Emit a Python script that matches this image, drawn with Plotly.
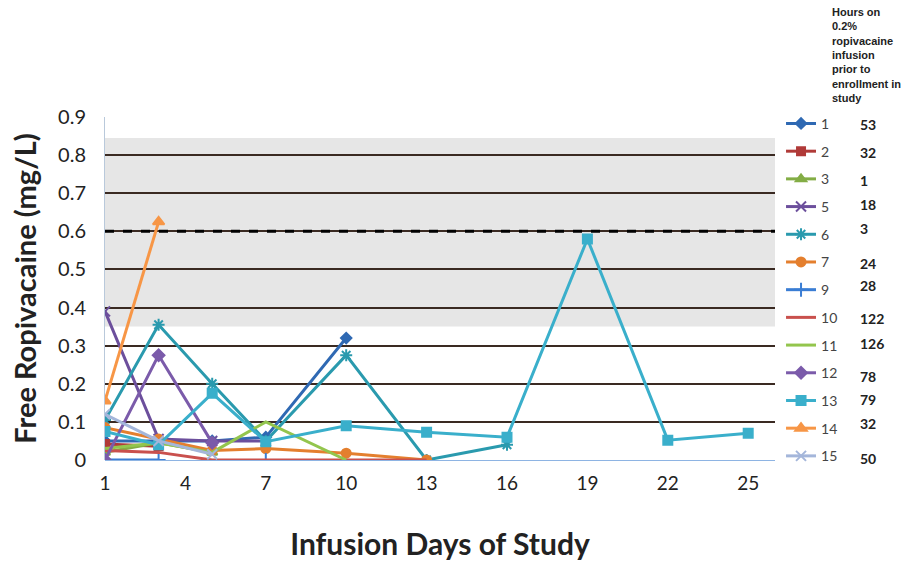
import plotly.graph_objects as go

# ---- data ----
series_names = ["1", "2", "3", "5", "6", "7", "9", "10", "11", "12", "13", "14", "15"]
hours = ["53", "32", "1", "18", "3", "24", "28", "122", "126", "78", "79", "32", "50"]

days_s1 = [1, 3, 5, 7, 10]
vals_s1 = [0.05, 0.05, 0.05, 0.06, 0.32]
days_s2 = [1, 3]
vals_s2 = [0.042, 0.036]
days_s3 = [1, 3, 5]
vals_s3 = [0.02, 0.045, 0.02]
days_s5 = [1, 3, 5, 7]
vals_s5 = [0.39, 0.055, 0.05, 0.05]
days_s6 = [1, 3, 5, 7, 10, 13, 16]
vals_s6 = [0.105, 0.355, 0.2, 0.05, 0.275, 0.0, 0.04]
days_s7 = [1, 3, 5, 7, 10, 13]
vals_s7 = [0.085, 0.055, 0.025, 0.03, 0.018, 0.0]
days_s9 = [1, 3, 5, 7]
vals_s9 = [0.0, 0.0, None, 0.0]
days_s10 = [1, 3, 5, 7, 10, 13]
vals_s10 = [0.025, 0.02, 0.0, 0.0, 0.0, 0.0]
days_s11 = [1, 3, 5, 7, 10]
vals_s11 = [0.03, 0.045, 0.02, 0.1, 0.0]
days_s12 = [1, 3, 5]
vals_s12 = [0.0, 0.275, 0.045]
days_s13 = [1, 3, 5, 7, 10, 13, 16, 19, 22, 25]
vals_s13 = [0.075, 0.04, 0.175, 0.048, 0.09, 0.073, 0.06, 0.58, 0.052, 0.07]
days_s14 = [1, 3]
vals_s14 = [0.155, 0.625]
days_s15 = [1, 3, 5]
vals_s15 = [0.12, 0.05, 0.015]

x_ticks = [1, 4, 7, 10, 13, 16, 19, 22, 25]
y_ticks = [0, 0.1, 0.2, 0.3, 0.4, 0.5, 0.6, 0.7, 0.8, 0.9]
band_low, band_high = 0.35, 0.845
threshold = 0.6

all_days = [days_s1, days_s2, days_s3, days_s5, days_s6, days_s7, days_s9,
            days_s10, days_s11, days_s12, days_s13, days_s14, days_s15]
all_vals = [vals_s1, vals_s2, vals_s3, vals_s5, vals_s6, vals_s7, vals_s9,
            vals_s10, vals_s11, vals_s12, vals_s13, vals_s14, vals_s15]

colors = ["#2F69B3", "#B03A38", "#83AD45", "#6C4F9C", "#2A9AAE", "#E47F2E",
          "#3A7DD4", "#C9504D", "#93C54D", "#7B5BAA", "#3AAFCB", "#F79646", "#A4B6DA"]
symbols = ["diamond", "square", "triangle-up", "x-thin-open", "asterisk-open", "circle",
           "cross-thin-open", None, None, "diamond", "square", "triangle-up", "x-thin-open"]
msizes = [8, 8, 9, 10, 10, 9, 10, 0, 0, 9, 9, 10, 10]

FONT = "Lato"

fig = go.Figure()

for name, d, v, c, s, ms in zip(series_names, all_days, all_vals, colors, symbols, msizes):
    if s is None:
        mode = "lines"
        marker = dict()
    else:
        mode = "lines+markers"
        marker = dict(symbol=s, size=ms, color=c, line=dict(color=c, width=2))
    fig.add_trace(go.Scatter(
        x=d, y=v, name=name, mode=mode, legendgroup=name,
        line=dict(color=c, width=3), marker=marker, connectgaps=False,
    ))

# grey reference band and threshold line
fig.add_hrect(y0=band_low, y1=band_high, fillcolor="#E6E6E6", line_width=0, layer="below")
fig.add_hline(y=threshold, line=dict(color="black", width=3, dash="dash"), layer="above")

fig.update_layout(
    width=913, height=561,
    margin=dict(l=105, r=138, t=117, b=101, autoexpand=False),
    paper_bgcolor="white", plot_bgcolor="white",
    font=dict(family=FONT, color="#222"),
    xaxis=dict(
        range=[1, 26], tickmode="array", tickvals=x_ticks,
        ticktext=[str(t) for t in x_ticks], automargin=False,
        showgrid=False, zeroline=False, showline=False,
        tickfont=dict(size=19, color="#222"), ticks="", ticklabelstandoff=10,
        title=dict(text="<b>Infusion Days of Study</b>", font=dict(size=30, color="#222"), standoff=42),
    ),
    yaxis=dict(
        range=[0, 0.9], tickmode="array", tickvals=y_ticks, automargin=False,
        ticktext=["0" if t == 0 else f"{t:.1f}" for t in y_ticks],
        showgrid=True, gridcolor="#3A2A22", gridwidth=1.5,
        zeroline=True, zerolinecolor="#8EB4E3", zerolinewidth=1,
        showline=True, linecolor="#B9C9DB", linewidth=1,
        tickfont=dict(size=20, color="#222"), ticks="", ticklabelstandoff=14,
        title=dict(text="<b>Free Ropivacaine (mg/L)</b>", font=dict(size=29, color="#222"), standoff=12),
    ),
    showlegend=True,
    legend=dict(
        x=1.009, y=1.0266, xanchor="left", yanchor="top",
        font=dict(size=14, color="#444", family=FONT),
        tracegroupgap=6.5, bgcolor="rgba(0,0,0,0)", maxheight=560,
    ),
)

# legend title
fig.add_annotation(
    xref="paper", yref="paper", x=(830 - 105) / 670, y=(460 - 4) / 343,
    xanchor="left", yanchor="top", align="left", showarrow=False,
    text="<b>Hours on<br>0.2%<br>ropivacaine<br>infusion<br>prior to<br>enrollment in<br>study</b>",
    font=dict(size=11, color="#222", family="Liberation Sans"),
)

# hours column
hour_pix = [124, 152, 180, 204, 228, 263, 285, 318, 343, 376, 399, 423, 458]
for h, yp in zip(hours, hour_pix):
    fig.add_annotation(
        xref="paper", yref="paper", x=(858 - 105) / 670, y=(460 - yp) / 343,
        xanchor="left", yanchor="middle", showarrow=False,
        text=f"<b>{h}</b>", font=dict(size=14, color="#222", family=FONT),
    )

fig.write_html("out.html", config={"displayModeBar": False},
               post_script="document.body.style.margin='0';")
